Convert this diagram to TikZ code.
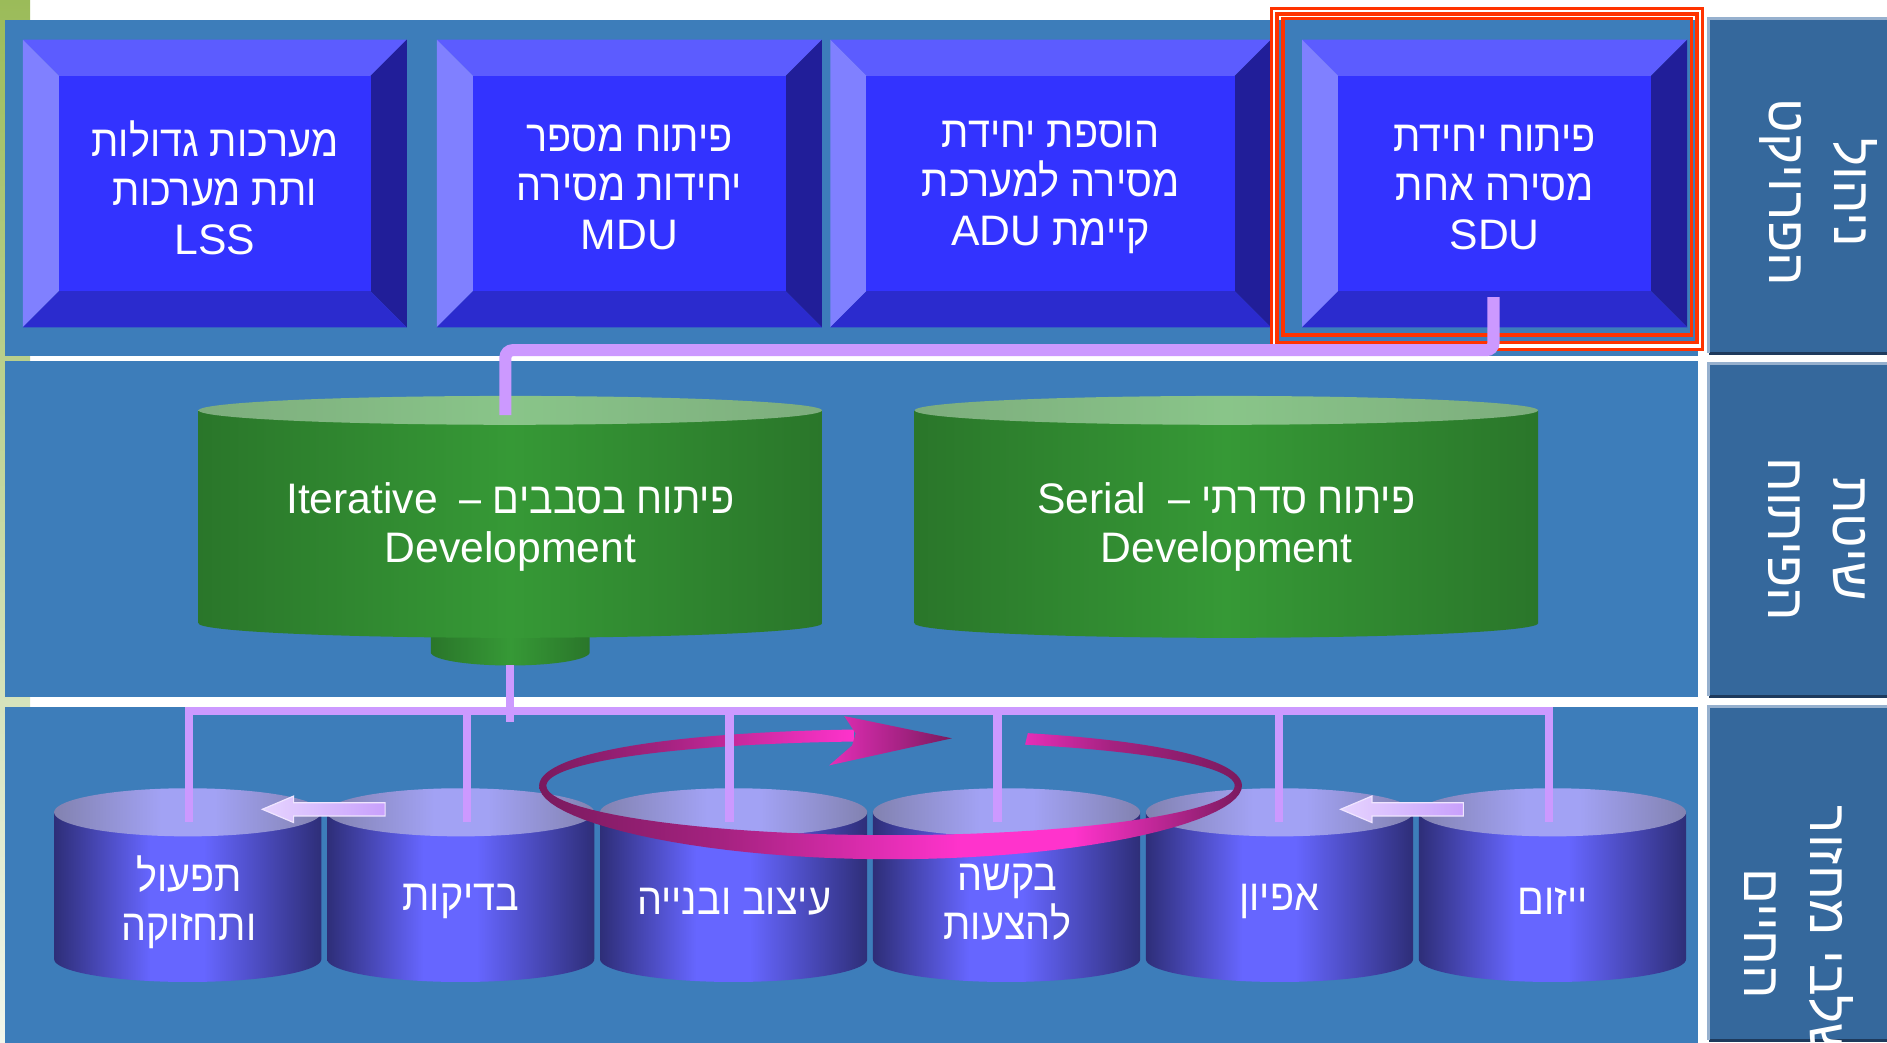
\documentclass[tikz,border=0pt]{standalone}
\usepackage{fontspec}
\setmainfont{Liberation Sans}
\newfontfamily\hebfont[Script=Hebrew, FakeStretch=0.9]{Liberation Sans}
\newfontfamily\lblfont[Script=Hebrew]{Liberation Sans}
\newfontfamily\latfont[Scale=0.97]{Liberation Sans}
\TeXXeTstate=1
\usetikzlibrary{calc}

\definecolor{panel}{RGB}{61,125,186}
\definecolor{lblbox}{RGB}{53,104,156}
\definecolor{lblborder}{RGB}{150,176,206}
\definecolor{lblshadow}{RGB}{30,58,92}
\definecolor{olive}{RGB}{155,187,89}
\definecolor{olivepale}{RGB}{242,246,236}
\definecolor{bvface}{RGB}{51,51,255}
\definecolor{bvtop}{RGB}{92,92,255}
\definecolor{bvleft}{RGB}{128,128,255}
\definecolor{bvright}{RGB}{33,30,153}
\definecolor{bvbottom}{RGB}{43,43,206}
\definecolor{lav}{RGB}{204,153,255}
\definecolor{gD}{RGB}{42,118,42}
\definecolor{gL}{RGB}{54,153,54}
\definecolor{gtD}{RGB}{125,173,125}
\definecolor{gtL}{RGB}{137,197,137}
\definecolor{bcD}{RGB}{46,46,120}
\definecolor{bcL}{RGB}{102,102,255}
\definecolor{btD}{RGB}{130,130,176}
\definecolor{btL}{RGB}{162,162,244}
\definecolor{mgD}{RGB}{122,26,94}
\definecolor{mgM}{RGB}{165,34,128}
\definecolor{mgH}{RGB}{228,46,184}
\definecolor{mgL}{RGB}{255,51,204}
\definecolor{redf}{RGB}{255,51,0}
\definecolor{arrL}{RGB}{230,212,255}
\definecolor{arrD}{RGB}{200,160,252}

\pgfdeclarehorizontalshading{gbody}{100bp}{color(0bp)=(gD); color(25bp)=(gD); color(50bp)=(gL); color(75bp)=(gD); color(100bp)=(gD)}
\pgfdeclarehorizontalshading{gtop}{100bp}{color(0bp)=(gtD); color(25bp)=(gtD); color(50bp)=(gtL); color(75bp)=(gtD); color(100bp)=(gtD)}
\pgfdeclarehorizontalshading{bbody}{100bp}{color(0bp)=(bcD); color(25bp)=(bcD); color(43bp)=(bcL); color(53bp)=(bcL); color(75bp)=(bcD); color(100bp)=(bcD)}
\pgfdeclarehorizontalshading{btop}{100bp}{color(0bp)=(btD); color(25bp)=(btD); color(45bp)=(btL); color(55bp)=(btL); color(75bp)=(btD); color(100bp)=(btD)}
\pgfdeclarehorizontalshading{ribfront}{100bp}{color(0bp)=(mgD); color(25bp)=(mgD); color(38bp)=(mgM); color(55bp)=(mgL); color(63bp)=(mgL); color(75bp)=(mgD); color(100bp)=(mgD)}
\pgfdeclarehorizontalshading{ribbackL}{100bp}{color(0bp)=(mgD); color(25bp)=(mgD); color(45bp)=(mgM); color(75bp)=(mgL); color(100bp)=(mgL)}
\pgfdeclarehorizontalshading{ribbackR}{100bp}{color(0bp)=(mgH); color(25bp)=(mgH); color(45bp)=(mgM); color(75bp)=(mgD); color(100bp)=(mgD)}
\pgfdeclarehorizontalshading{arrhead}{100bp}{color(0bp)=(mgH); color(25bp)=(mgH); color(75bp)=(mgD); color(100bp)=(mgD)}

\newcommand\bevbox[2]{%
  \fill[bvtop] (#1,33) -- (#2,33) -- ({#2-30},63) -- ({#1+30},63) -- cycle;
  \fill[bvleft] (#1,33) -- ({#1+30},63) -- ({#1+30},242) -- (#1,272) -- cycle;
  \fill[bvright] (#2,33) -- (#2,272) -- ({#2-30},242) -- ({#2-30},63) -- cycle;
  \fill[bvbottom] (#1,272) -- ({#1+30},242) -- ({#2-30},242) -- (#2,272) -- cycle;
  \fill[bvface] ({#1+30},63) rectangle ({#2-30},242);}
\newcommand\greencyl[5]{%
  \shade[shading=gbody] ({#1-#2},#3) -- ({#1-#2},#4) -- plot[domain=180:0,samples=50] ({#1+#2*cos(\x)},{#4+#5*sin(\x)}) -- ({#1+#2},#3) -- cycle;
  \shade[shading=gtop] plot[domain=0:360,samples=100] ({#1+#2*cos(\x)},{#3+#5*sin(\x)}) -- cycle;}
\newcommand\bluecyl[1]{%
  \shade[shading=bbody] ({#1-111},675) -- ({#1-111},797) -- plot[domain=180:0,samples=50] ({#1+111*cos(\x)},{797+19*sin(\x)}) -- ({#1+111},675) -- cycle;
  \shade[shading=btop] plot[domain=0:360,samples=100] ({#1+111*cos(\x)},{675+20*sin(\x)}) -- cycle;}
\newcommand\ribpiece[3]{%
  \shade[shading=#3] plot[domain=#1:#2,samples=50] ({740+292*cos(\x)},{653+54*sin(\x)+7*sin(\x)*sin(\x)}) -- plot[domain=#2:#1,samples=50] ({740+286*cos(\x)},{653+39*sin(\x)+2*sin(\x)*sin(\x)}) -- cycle;}
\newcommand\smallarrow[1]{%
  \shadedraw[left color=arrL, right color=arrD, draw=arrL!60!white, line width=0.1mm] (#1,672.5) -- ({#1+26},661.5) -- ({#1+26},667) -- ({#1+102},667) -- ({#1+102},678) -- ({#1+26},678) -- ({#1+26},683.5) -- cycle;}

\begin{document}
\begin{tikzpicture}[x=0.1mm,y=-0.1mm,
  txt/.style={text=white, font=\hebfont\fontsize{10.4}{11.6}\selectfont, align=center, inner sep=0pt},
  lbl/.style={text=white, font=\lblfont\fontsize{12.5}{15.5}\selectfont, align=center, rotate=-90, inner sep=0pt},
  conn/.style={draw=lav, line width=0.7mm},
  connthick/.style={draw=lav, line width=1mm, rounded corners=0.6mm}]
\clip (0,0) rectangle (1568,866);
\fill[white] (0,0) rectangle (1568,866);
\shade[top color=olive, bottom color=olivepale] (0,0) rectangle (25,866);
% panels
\fill[panel] (4.5,16.6) rectangle (1411,296);
\fill[panel] (4.5,300) rectangle (1411,579);
\fill[panel] (4.5,587.5) rectangle (1411,870);
% label boxes
\foreach \ya/\yb in {14.5/293, 301/578, 586/864}{
  \fill[lblbox] (1419,\ya) rectangle (1600,\yb);
  \draw[lblshadow, line width=0.25mm] (1420,{\yb+0.5}) -- (1600,{\yb+0.5});
  \draw[lblborder, line width=0.25mm] (1420,\yb) -- (1420,{\ya+1}) -- (1600,{\ya+1});
}
\node[lbl] (lab1) at (1511,160) {\beginR ניהול\endR\\\beginR הפרויקט\endR};
\node[lbl] (lab2) at (1510,448) {\beginR שיטת\endR\\\beginR הפיתוח\endR};
\node[lbl] (lab3) at (1495,776) {\beginR שלבי מחזור\endR\\\beginR החיים\endR};
% top row boxes
\bevbox{19}{338}
\bevbox{363}{683}
\bevbox{690}{1056}
\bevbox{1082}{1402}
\node[txt] (lss) at (178.5,156) {\beginR מערכות גדולות\endR\\\beginR ותת מערכות\endR\\{\latfont LSS}};
\node[txt] (mdu) at (523,156) {\beginR פיתוח מספר\endR\\\beginR יחידות מסירה\endR\\{\latfont MDU}};
\node[txt] (adu) at (873,156) {\beginR הוספת יחידת\endR\\\beginR מסירה למערכת\endR\\\beginR קיימת {\latfont ADU}\endR};
\node[txt] (sdu) at (1242,156) {\beginR פיתוח יחידת\endR\\\beginR מסירה אחת\endR\\{\latfont SDU}};
% red frame
\draw[white, line width=0.3mm] (1059,9.2) rectangle (1412,287.5);
\draw[redf, line width=0.24mm] (1056.8,6.9) rectangle (1414.5,290.5);
\draw[redf, line width=0.28mm] (1061,11.6) rectangle (1410,284.5);
\draw[redf, line width=0.28mm] (1066,15.2) rectangle (1405.5,278.5);
% green cylinders
\greencyl{424}{66}{505}{542}{11}
\greencyl{424}{259}{341}{518}{12}
\greencyl{1019}{259}{341}{518}{12}
\node[txt] (iter) at (424,438) {\beginR פיתוח בסבבים –~~{\latfont Iterative}\endR\\{\latfont Development}};
\node[txt] (serial) at (1019,438) {\beginR פיתוח סדרתי –~~{\latfont Serial}\endR\\{\latfont Development}};
% top connector
\coordinate (sduout) at (1241,247);
\coordinate (elbow) at (420,291);
\coordinate (itin) at (420,345);
\draw[connthick] (sduout) |- (elbow) -- (itin);
% blue cylinders
\bluecyl{156}
\bluecyl{382.8}
\bluecyl{609.6}
\bluecyl{836.4}
\bluecyl{1063.2}
\bluecyl{1290}
\node[txt] (cA) at (157,750) {\beginR תפעול\endR\\\beginR ותחזוקה\endR};
\node[txt] (cB) at (383,749) {\beginR בדיקות\endR};
\node[txt] (cC) at (610,749) {\beginR עיצוב ובנייה\endR};
\node[txt] (cD) at (837,750) {\beginR בקשה\endR\\\beginR להצעות\endR};
\node[txt] (cE) at (1063,749) {\beginR אפיון\endR};
\node[txt] (cF) at (1290,749) {\beginR ייזום\endR};
% ribbon
\ribpiece{293}{360}{ribbackR}
\ribpiece{540}{624}{ribbackL}
\ribpiece{360}{540}{ribfront}
\shade[shading=arrhead] (701.5,595) -- (791,613.5) -- (689,636) -- (708,619.5) -- (711,609.5) -- cycle;
% lower connectors
\coordinate (itout) at (424,553);
\coordinate (busdrop) at (424,600);
\coordinate (busL) at (157,591);
\coordinate (busR) at (1287,591);
\coordinate (tA) at (157,683);
\coordinate (tB) at (388,683);
\coordinate (tC) at (606,683);
\coordinate (tD) at (829,683);
\coordinate (tE) at (1063,683);
\coordinate (tF) at (1287,683);
\draw[conn] (itout) -- (busdrop);
\draw[conn] (tA) -- (busL) -- (busR) -- (tF);
\foreach \t in {tB,tC,tD,tE}{\draw[conn] (\t |- busL) -- (\t);}
% small arrows
\smallarrow{218}
\smallarrow{1114}
\end{tikzpicture}
\end{document}
